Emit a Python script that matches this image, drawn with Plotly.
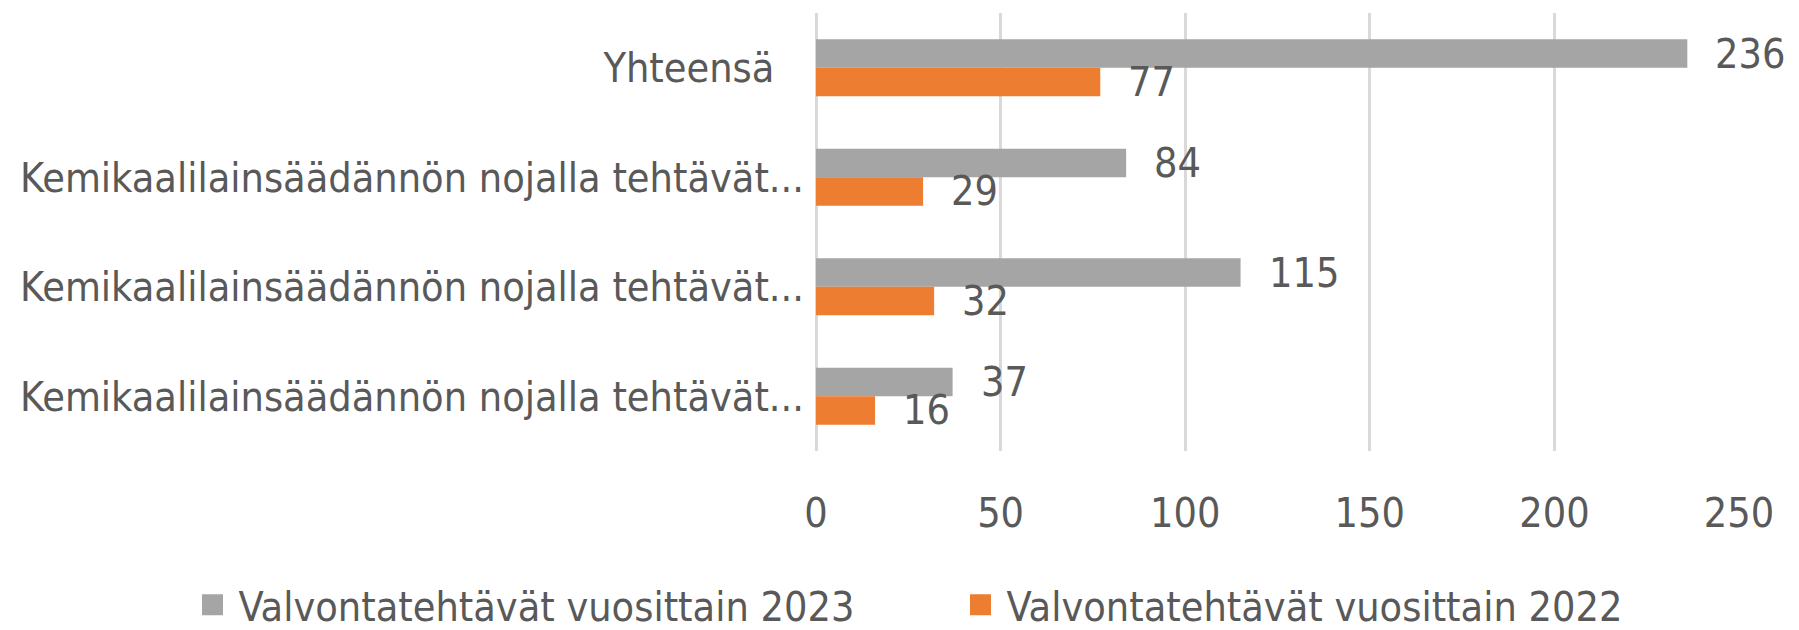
import plotly.graph_objects as go

categories = [
    "Yhteensä\u00a0\u00a0\u2006",
    "Kemikaalilainsäädännön nojalla tehtävät...",
    "Kemikaalilainsäädännön nojalla tehtävät...",
    "Kemikaalilainsäädännön nojalla tehtävät...",
]
values_2023 = [236, 84, 115, 37]
values_2022 = [77, 29, 32, 16]
series_names = ["Valvontatehtävät vuosittain 2023", "Valvontatehtävät vuosittain 2022"]
x_ticks = [0, 50, 100, 150, 200, 250]

GRAY = "#A5A5A5"
ORANGE = "#ED7D31"
TEXT = "#595959"
FONT = "DejaVu Sans Condensed, sans-serif"
FS = 41

pos = list(range(len(categories)))

fig = go.Figure()
fig.add_trace(go.Bar(y=pos, x=values_2023, orientation="h", name=series_names[0],
                     marker=dict(color=GRAY, line=dict(width=0)), showlegend=False))
fig.add_trace(go.Bar(y=pos, x=values_2022, orientation="h", name=series_names[1],
                     marker=dict(color=ORANGE, line=dict(width=0)), showlegend=False))
# legend entries (larger square swatches, like the reference)
for name, col in zip(series_names, [GRAY, ORANGE]):
    fig.add_trace(go.Scatter(x=[None], y=[None], mode="markers", name=name,
                             marker=dict(symbol="square", size=16, color=col,
                                         line=dict(color=col, width=5)),
                             showlegend=True, hoverinfo="skip"))

bar_half = (1 - 0.48) / 4
for i, v in enumerate(values_2023):
    fig.add_annotation(x=v, y=i - bar_half, text=str(v), showarrow=False,
                       xanchor="left", yanchor="middle", xshift=26,
                       font=dict(family=FONT, size=FS, color=TEXT))
for i, v in enumerate(values_2022):
    fig.add_annotation(x=v, y=i + bar_half, text=str(v), showarrow=False,
                       xanchor="left", yanchor="middle", xshift=26,
                       font=dict(family=FONT, size=FS, color=TEXT))

fig.update_layout(
    width=1791, height=622,
    margin=dict(l=808, r=60, t=5, b=179, autoexpand=False),
    barmode="group", bargap=0.48, bargroupgap=0,
    plot_bgcolor="white", paper_bgcolor="white",
    font=dict(family=FONT, size=FS, color=TEXT),
    legend=dict(orientation="h", xref="paper", yref="paper",
                x=-0.682, xanchor="left", y=-0.352, yanchor="middle",
                font=dict(family=FONT, size=FS, color=TEXT),
                traceorder="normal", itemwidth=42, entrywidth=711,
                bgcolor="rgba(0,0,0,0)"),
    showlegend=True,
)
fig.update_xaxes(range=[0, 250], tickvals=x_ticks, ticktext=[str(t) for t in x_ticks],
                 showgrid=True, gridcolor="#D9D9D9", gridwidth=2.5,
                 zeroline=True, zerolinecolor="#D9D9D9", zerolinewidth=2.5,
                 showline=False, ticks="", ticklabelstandoff=34, automargin=False,
                 tickfont=dict(family=FONT, size=FS, color=TEXT), fixedrange=True)
fig.update_yaxes(range=[3.5, -0.5], tickvals=pos, ticktext=categories,
                 showgrid=False, zeroline=False, showline=False, ticks="",
                 ticklabelstandoff=11, automargin=False,
                 tickfont=dict(family=FONT, size=FS, color=TEXT), fixedrange=True)

fig.write_html("out.html")
